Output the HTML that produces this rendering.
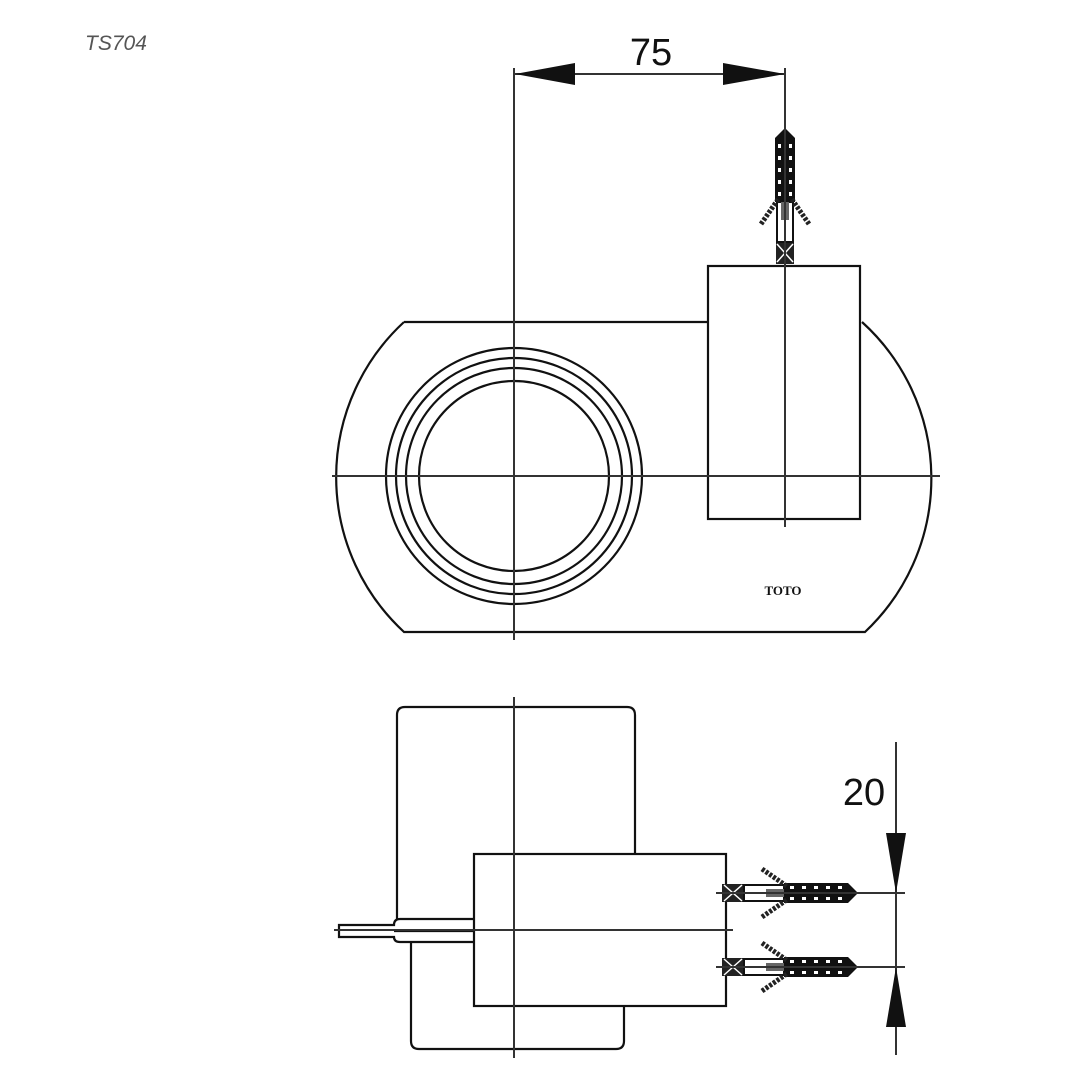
<!DOCTYPE html>
<html><head><meta charset="utf-8"><style>
html,body{margin:0;padding:0;background:#fff;}
svg{display:block;}
</style></head><body>
<svg width="1090" height="1090" viewBox="0 0 1090 1090" xmlns="http://www.w3.org/2000/svg">
<defs>
<g id="anc">
  <rect x="2" y="-9" width="22" height="18" fill="#222"/>
  <path d="M4,-8 L22,8 M4,8 L22,-8" stroke="#fff" stroke-width="1.5"/>
  <rect x="24" y="-8" width="40" height="16" fill="#fff" stroke="#111" stroke-width="2"/>
  <rect x="46" y="-4" width="18" height="8" fill="#666"/>
  <path d="M64,-10 L128,-10 L138,0 L128,10 L64,10 Z" fill="#111"/>
  <g fill="#fff">
    <rect x="70" y="-7" width="4" height="3"/><rect x="82" y="-7" width="4" height="3"/><rect x="94" y="-7" width="4" height="3"/><rect x="106" y="-7" width="4" height="3"/><rect x="118" y="-7" width="4" height="3"/>
    <rect x="70" y="4" width="4" height="3"/><rect x="82" y="4" width="4" height="3"/><rect x="94" y="4" width="4" height="3"/><rect x="106" y="4" width="4" height="3"/><rect x="118" y="4" width="4" height="3"/>
  </g>
  <path d="M42,-24 L68,-6 M42,24 L68,6" stroke="#222" stroke-width="5" stroke-dasharray="3,1.5"/>
  <line x1="-4" y1="0" x2="145" y2="0" stroke="#333" stroke-width="2"/>
</g>
</defs>

<text x="85" y="50" font-family="Liberation Sans, sans-serif" font-style="italic" font-size="21" fill="#555">TS704</text>

<g fill="none" stroke="#111" stroke-width="2.2">
  <!-- top view plate -->
  <path d="M404,322 L708,322 M862,322 A211,211 0 0 1 865,632 L404,632 A211,211 0 0 1 404,322"/>
  <circle cx="514" cy="476" r="128"/>
  <circle cx="514" cy="476" r="118"/>
  <circle cx="514" cy="476" r="108"/>
  <circle cx="514" cy="476" r="95"/>
  <rect x="708" y="266" width="152" height="253"/>
</g>
<g stroke="#333" stroke-width="2">
  <line x1="332" y1="476" x2="940" y2="476"/>
  <line x1="514" y1="68" x2="514" y2="640"/>
  <line x1="785" y1="68" x2="785" y2="527"/>
  <line x1="515" y1="74" x2="785" y2="74"/>
</g>
<path d="M515,74 L575,63 L575,85 Z M785,74 L723,63 L723,85 Z" fill="#111"/>
<text x="651" y="65" text-anchor="middle" font-family="Liberation Sans, sans-serif" font-size="38" fill="#111">75</text>
<text x="783" y="595" text-anchor="middle" font-family="Liberation Serif, serif" font-weight="bold" font-size="13" fill="#111">TOTO</text>
<use href="#anc" transform="translate(785,266) rotate(-90)"/>

<!-- side view -->
<g fill="none" stroke="#111" stroke-width="2.2">
  <path d="M397,919 L397,715 Q397,707 405,707 L627,707 Q635,707 635,715 L635,854"/>
  <rect x="474" y="854" width="252" height="152" fill="#fff"/>
  <path d="M411,942 L411,1041 Q411,1049 419,1049 L616,1049 Q624,1049 624,1041 L624,1006"/>
  <path d="M474,919 L400,919 Q394,919 394,925 L339,925 L339,937 L394,937 Q394,942 400,942 L474,942"/>
  <line x1="394" y1="931" x2="474" y2="931"/>
</g>
<g stroke="#333" stroke-width="2">
  <line x1="334" y1="930" x2="733" y2="930"/>
  <line x1="514" y1="697" x2="514" y2="1058"/>
  <line x1="896" y1="742" x2="896" y2="1055"/>
  <line x1="855" y1="893" x2="905" y2="893"/>
  <line x1="855" y1="967" x2="905" y2="967"/>
</g>
<path d="M896,893 L886,833 L906,833 Z M896,967 L886,1027 L906,1027 Z" fill="#111"/>
<text x="864" y="805" text-anchor="middle" font-family="Liberation Sans, sans-serif" font-size="38" fill="#111">20</text>
<use href="#anc" transform="translate(720,893)"/>
<use href="#anc" transform="translate(720,967)"/>
</svg>
</body></html>
